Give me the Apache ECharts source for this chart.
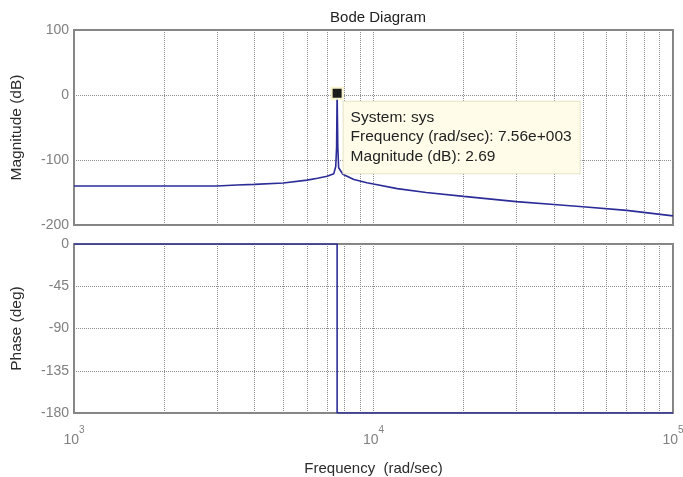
<!DOCTYPE html>
<html>
<head>
<meta charset="utf-8">
<title>Bode Diagram</title>
<script src="https://cdn.jsdelivr.net/npm/echarts@6/dist/echarts.min.js"></script>
<style>
	html, body { margin: 0; padding: 0; background: #fff; }
	#chart { width: 683px; height: 477px; }
</style>
</head>
<body>
<div id="chart"></div>
<script>
// magnitude curve
var magFreq = [1000, 2000, 3000, 3500, 4000, 5000, 6000, 6500, 7000, 7370, 7480, 7530, 7560, 7600, 7650, 7900, 8600, 9500, 10000, 12000, 15000, 20000, 30000, 40000, 50000, 70000, 100000];
var magDb = [-140, -140, -140, -138.5, -137.5, -135.5, -131, -128, -125, -121, -110, -80, 2.69, -80, -112, -122, -130, -135, -137, -144, -150, -156, -164, -168.5, -172, -177.5, -186];

// phase curve
var phaseFreq = [1000, 7560, 7560, 100000];
var phaseDeg = [0, 0, -180, -180];

// peak data tip
var peakFreq = 7560;
var peakDb = 2.69;
var sysName = 'sys';

// minor log gridlines
var minorGrid = [2000, 3000, 4000, 5000, 6000, 7000, 8000, 9000, 20000, 30000, 40000, 50000, 60000, 70000, 80000, 90000];

var magTicks = [-200, -100, 0, 100];
var phaseTicks = [-180, -135, -90, -45, 0];

var FONT = 'Liberation Sans, Arial, sans-serif';
var LINE_COLOR = '#2c2c98';
var GRID_COLOR = '#8c8c8c';

function pairs(xs, ys) {
	var out = [];
	for (var i = 0; i < xs.length; i++) {
		out.push([xs[i], ys[i]]);
	}
	return out;
}

function matlabExp(v) {
	var s = v.toExponential(2).split('e');
	var e = parseInt(s[1], 10);
	return s[0] + 'e' + (e < 0 ? '-' : '+') + ('000' + Math.abs(e)).slice(-3);
}

function minorLines() {
	var data = [];
	for (var i = 0; i < minorGrid.length; i++) {
		data.push({ xAxis: minorGrid[i] });
	}
	return {
		silent: true,
		symbol: 'none',
		z: 1,
		animation: false,
		label: { show: false },
		lineStyle: { color: GRID_COLOR, type: 'dotted', width: 1 },
		emphasis: { disabled: true },
		data: data
	};
}

var myChart = echarts.init(document.getElementById('chart'));

var xBase = {
	type: 'log',
	logBase: 10,
	min: 1000,
	max: 100000,
	axisLine: { show: false },
	axisTick: { show: false },
	splitLine: { show: true, lineStyle: { color: GRID_COLOR, type: 'dotted' } }
};

var option = {
	animation: false,
	backgroundColor: '#ffffff',
	title: {
		text: 'Bode Diagram',
		left: 373,
		top: 5,
		textAlign: 'center',
		textStyle: { fontFamily: FONT, fontSize: 15, fontWeight: 'normal', color: '#222' }
	},
	grid: [
		{ left: 74, right: 10, top: 30, height: 195, show: true, borderColor: '#848484', borderWidth: 2, outerBoundsMode: 'none', containLabel: false },
		{ left: 74, right: 10, top: 244, height: 169, show: true, borderColor: '#848484', borderWidth: 2, outerBoundsMode: 'none', containLabel: false }
	],
	xAxis: [
		echarts.util.merge({ gridIndex: 0, axisLabel: { show: false } }, xBase, true),
		echarts.util.merge({
			gridIndex: 1,
			name: 'Frequency  (rad/sec)',
			nameLocation: 'middle',
			nameGap: 48,
			nameTextStyle: { fontFamily: FONT, fontSize: 15, color: '#2b2b2b' },
			axisLabel: {
				margin: 10,
				hideOverlap: false,
				formatter: function(v) {
					return '{b|10}{s|' + Math.round(Math.log10(v)) + '}';
				},
				rich: {
					b: { fontFamily: FONT, fontSize: 14, color: '#808080', padding: [10, 0, 0, 0] },
					s: { fontFamily: FONT, fontSize: 10, color: '#808080', padding: [0, 0, 10, 0] }
				}
			}
		}, xBase, true)
	],
	yAxis: [
		{
			gridIndex: 0,
			min: magTicks[0],
			max: magTicks[magTicks.length - 1],
			interval: 100,
			name: 'Magnitude (dB)',
			nameLocation: 'middle',
			nameGap: 49,
			nameTextStyle: { fontFamily: FONT, fontSize: 15.5, color: '#2b2b2b' },
			axisLine: { show: false },
			axisTick: { show: false },
			axisLabel: { margin: 5, fontFamily: FONT, fontSize: 14, color: '#808080' },
			splitLine: { lineStyle: { color: GRID_COLOR, type: 'dotted' } }
		},
		{
			gridIndex: 1,
			min: phaseTicks[0],
			max: phaseTicks[phaseTicks.length - 1],
			interval: 45,
			name: 'Phase (deg)',
			nameLocation: 'middle',
			nameGap: 49,
			nameTextStyle: { fontFamily: FONT, fontSize: 15.5, color: '#2b2b2b' },
			axisLine: { show: false },
			axisTick: { show: false },
			axisLabel: { margin: 5, fontFamily: FONT, fontSize: 14, color: '#808080' },
			splitLine: { lineStyle: { color: GRID_COLOR, type: 'dotted' } }
		}
	],
	series: [
		{
			type: 'line',
			xAxisIndex: 0,
			yAxisIndex: 0,
			data: pairs(magFreq, magDb),
			showSymbol: false,
			smooth: false,
			z: 3,
			lineStyle: { color: LINE_COLOR, width: 1.6 },
			markLine: minorLines(),
			markPoint: {
				symbol: 'rect',
				symbolSize: 11,
				z: 10,
				itemStyle: { color: '#1c1c1c', borderColor: '#f8f3cc', borderWidth: 2 },
				label: {
					show: true,
					position: [13, 15],
					align: 'left',
					verticalAlign: 'top',
					fontFamily: FONT,
					fontSize: 15.5,
					lineHeight: 19.5,
					color: '#222',
					backgroundColor: '#fffdea',
					borderColor: '#e6e2c6',
					borderWidth: 1,
					padding: [6, 8, 7, 7],
					formatter: function() {
						return 'System: ' + sysName + '\nFrequency (rad/sec): ' + matlabExp(peakFreq) +
							'\nMagnitude (dB): ' + peakDb;
					}
				},
				data: [{ coord: [peakFreq, peakDb] }]
			}
		},
		{
			type: 'line',
			xAxisIndex: 1,
			yAxisIndex: 1,
			data: pairs(phaseFreq, phaseDeg),
			showSymbol: false,
			z: 3,
			lineStyle: { color: LINE_COLOR, width: 1.6 },
			markLine: minorLines()
		}
	]
};

myChart.setOption(option);
</script>
</body>
</html>
